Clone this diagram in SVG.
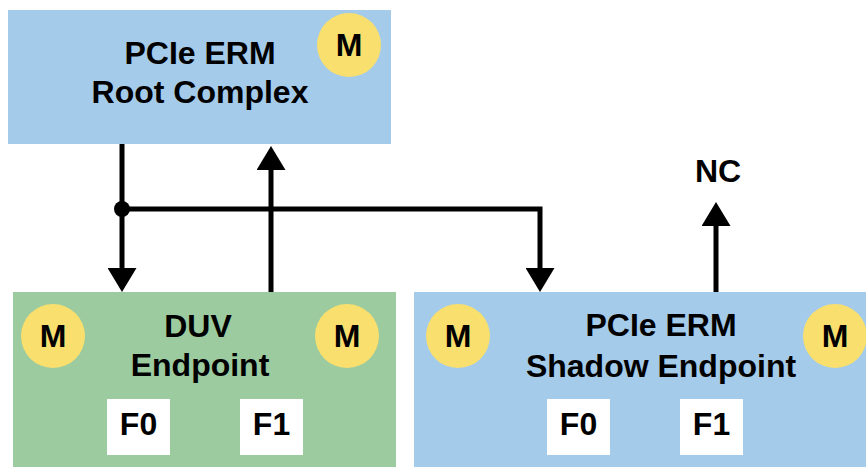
<svg xmlns="http://www.w3.org/2000/svg" width="866" height="467" viewBox="0 0 866 467">
<style>
.t{font-family:"Liberation Sans",Arial,sans-serif;font-weight:bold;font-size:32px;fill:#000;text-anchor:middle}
.blue{fill:#A4CBE9}
.green{fill:#9BCB9F}
.m{fill:#F9DF6E}
.f{fill:#FFFFFF}
.c{stroke:#000;stroke-width:5;fill:none}
</style>
<defs>
<marker id="ah" markerUnits="userSpaceOnUse" markerWidth="24" markerHeight="29" refX="0" refY="14.5" orient="auto" viewBox="0 0 24 29">
<path d="M0,0 L24,14.5 L0,29 z" fill="#000"/>
</marker>
</defs>
<rect width="866" height="467" fill="#FFFFFF"/>
<g id="root">
<rect class="blue" x="8" y="10" width="383" height="134"/>
<circle class="m" cx="349" cy="45" r="32"/>
<text class="t" x="349" y="56">M</text>
<text class="t" x="200" y="64">PCIe ERM</text>
<text class="t" x="200" y="103">Root Complex</text>
</g>
<g id="duv">
<rect class="green" x="13" y="292" width="383" height="175"/>
<circle class="m" cx="53" cy="336" r="32"/>
<text class="t" x="53" y="347">M</text>
<circle class="m" cx="347" cy="336" r="32"/>
<text class="t" x="347" y="347">M</text>
<text class="t" x="198" y="337">DUV</text>
<text class="t" x="200" y="376">Endpoint</text>
<rect class="f" x="107" y="399" width="63" height="56"/>
<text class="t" x="138.5" y="435">F0</text>
<rect class="f" x="240" y="399" width="63" height="56"/>
<text class="t" x="271.5" y="435">F1</text>
</g>
<g id="shadow">
<rect class="blue" x="414" y="292" width="452" height="175"/>
<circle class="m" cx="458" cy="336" r="32"/>
<text class="t" x="458" y="347">M</text>
<circle class="m" cx="835" cy="336" r="32"/>
<text class="t" x="835" y="347">M</text>
<text class="t" x="661" y="336">PCIe ERM</text>
<text class="t" x="661" y="377">Shadow Endpoint</text>
<rect class="f" x="547" y="399" width="63" height="56"/>
<text class="t" x="578.5" y="435">F0</text>
<rect class="f" x="680" y="399" width="63" height="56"/>
<text class="t" x="711.5" y="435">F1</text>
</g>
<g id="nc">
<text class="t" x="718" y="182">NC</text>
</g>
<g id="connectors">
<line class="c" x1="122" y1="144" x2="122" y2="268" marker-end="url(#ah)"/>
<line class="c" x1="271" y1="292" x2="271" y2="170" marker-end="url(#ah)"/>
<path class="c" d="M122,209 H540 V268" marker-end="url(#ah)"/>
<line class="c" x1="716" y1="292" x2="716" y2="226" marker-end="url(#ah)"/>
<circle cx="122" cy="209" r="8" fill="#000"/>
</g>
</svg>
